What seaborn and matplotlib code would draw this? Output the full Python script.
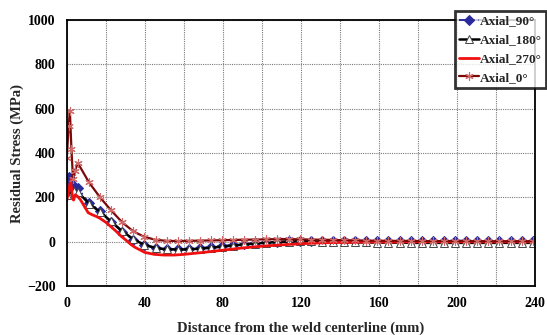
import numpy as np
import pandas as pd
import matplotlib
matplotlib.use("Agg")
import matplotlib.pyplot as plt
import seaborn as sns

# distance from weld centerline (mm) and axial residual stress (MPa)
x_grid = [0, 5.7, 11.4, 17.1, 22.7, 28.4, 34.1, 39.8, 45.5, 51.2, 56.9, 62.5, 68.2,
          73.9, 79.6, 85.3, 91.0, 96.7, 102.3, 108.0, 113.7, 119.4, 125.1, 130.8,
          136.5, 142.2, 147.8, 153.5, 159.2, 164.9, 170.6, 176.3, 182.0, 187.6,
          193.3, 199.0, 204.7, 210.4, 216.1, 221.8, 227.5, 233.1, 238.8]

x_90 = [0, 1.3, 3.3] + x_grid[1:]
axial_90 = [236, 292, 258, 242, 175, 140, 90, 45, 10, -15, -27, -32, -33, -31, -28,
            -24, -19, -14, -10, -6, -3, 0, 2, 3, 4, 4, 5, 5, 5, 4, 4, 3, 3, 3, 3,
            3, 4, 5, 5, 4, 3, 3, 3, 2, 2]

x_180 = [0, 3.5] + x_grid[1:]
axial_180 = [212, 228, 225, 172, 135, 92, 48, 12, -14, -28, -34, -35, -34, -31, -27,
             -22, -17, -12, -8, -4, -1, 1, 2, 2, 1, 0, -2, -3, -3, -4, -4, -4, -5,
             -5, -5, -5, -5, -5, -5, -5, -5, -5, -5, -5]

x_270 = [0, 1, 2, 3, 3.5, 4.4, 5.5, 7, 9, 11, 13, 15, 17, 20, 22.5, 25, 28, 30, 33,
         35, 40, 45, 50, 55, 60, 70, 80, 90, 100, 110, 120, 130, 140, 160, 180,
         200, 220, 240]
axial_270 = [185, 230, 278, 195, 188, 212, 205, 190, 160, 131, 122, 115, 106, 88, 69,
             50, 24, 10, -13, -25, -48, -57, -60, -60, -57, -48, -38, -28, -20, -14,
             -9, -5, -3, -1, 0, 0, 0, 0]

x_0 = [0, 1.0, 1.6, 2.4, 3.2, 4.2] + x_grid[1:]
axial_0 = [380, 520, 592, 420, 285, 320, 355, 268, 200, 142, 88, 47, 22, 9, 4, 3, 4,
           5, 6, 7, 8, 9, 10, 11, 12, 12, 11, 10, 9, 8, 7, 6, 5, 5, 4, 4, 4, 3, 3,
           3, 3, 3, 2, 2, 2, 2, 2, 2]

sns.set_theme(style="white")
plt.rcParams["font.family"] = ["Liberation Serif", "DejaVu Serif"]
plt.rcParams["font.weight"] = "bold"

fig = plt.figure(figsize=(5.47, 3.35), dpi=100)
ax = fig.add_axes([0.122, 0.146, 0.856, 0.794])

sns.lineplot(x=x_90, y=axial_90, ax=ax, estimator=None, color="#2a2a9c",
             linestyle=(0, (5, 2, 1, 2)), linewidth=1.4, marker="D", markersize=5,
             markeredgecolor="#2a2a9c", label="Axial_90°")
sns.lineplot(x=x_180, y=axial_180, ax=ax, estimator=None, color="black",
             linewidth=1.8, marker="^", markersize=5.5, markerfacecolor="white",
             markeredgecolor="#444444", markeredgewidth=0.7, label="Axial_180°")
sns.lineplot(x=x_270, y=axial_270, ax=ax, estimator=None, color="#f01010",
             linewidth=2.0, label="Axial_270°")
sns.lineplot(x=x_0, y=axial_0, ax=ax, estimator=None, color="#7a0a0a",
             linewidth=1.6, marker=(6, 2, 0), markersize=6,
             markeredgecolor="#d06868", markeredgewidth=0.8, label="Axial_0°")

ax.set_xlim(0, 240)
ax.set_ylim(-200, 1000)
ax.set_xticks(np.arange(0, 241, 20))
ax.set_xticklabels([str(v) if v % 40 == 0 else "" for v in range(0, 241, 20)])
ax.set_yticks(np.arange(-200, 1001, 200))
ax.set_yticks(np.arange(-200, 1001, 50), minor=True)
ax.tick_params(axis="both", which="both", direction="in", length=4, width=0.8,
               labelsize=10, colors="black", pad=8)
ax.tick_params(axis="y", which="minor", length=3)
for lab in ax.get_xticklabels() + ax.get_yticklabels():
    lab.set_fontweight("bold")

ax.grid(True, which="major", color="#7a7a7a", linestyle=(0, (1, 1)), linewidth=0.8)
ax.set_axisbelow(True)
for sp in ax.spines.values():
    sp.set_color("black")
    sp.set_linewidth(1.3)

ax.set_xlabel("Distance from the weld centerline (mm)", fontsize=10.5,
              fontweight="bold", labelpad=8)
ax.set_ylabel("Residual Stress (MPa)", fontsize=10.5, fontweight="bold", labelpad=2)

leg = ax.legend(loc="upper left", bbox_to_anchor=(0.832, 0.966),
                bbox_transform=fig.transFigure, borderaxespad=0, fancybox=False,
                frameon=True, fontsize=9.5, handlelength=1.5, handletextpad=0.1,
                labelspacing=0.5, borderpad=0.3)
leg.get_frame().set_edgecolor("black")
leg.get_frame().set_linewidth(2)
for t in leg.get_texts():
    t.set_fontweight("bold")

fig.savefig("out.png", dpi=100, facecolor="white")
